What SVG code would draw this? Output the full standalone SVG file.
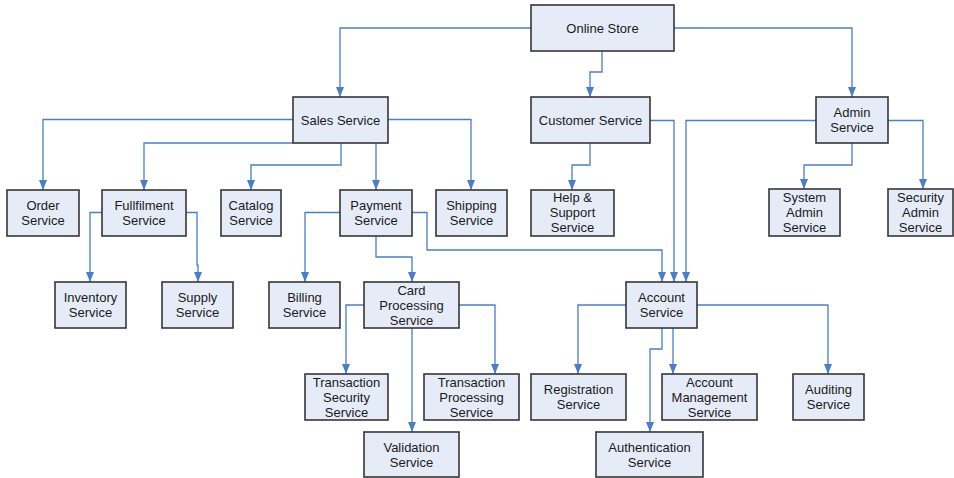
<svg xmlns="http://www.w3.org/2000/svg" width="954" height="478" viewBox="0 0 954 478">
<style>
.box{fill:#E6ECF7;stroke:#363636;stroke-width:1.6}
.lbl{font-family:"Liberation Sans",Arial,sans-serif;font-size:13px;fill:#1a1a1a;text-anchor:middle}
.c{fill:none;stroke:#4A7EC9;stroke-width:1.3;marker-end:url(#ah)}
</style>
<defs>
<marker id="ah" markerUnits="userSpaceOnUse" markerWidth="10" markerHeight="8" refX="10" refY="4" orient="auto">
<path d="M0,0 L10,4 L0,8 z" fill="#4A7EC9"/>
</marker>
</defs>
<rect width="954" height="478" fill="#fff"/>
<g id="connectors">
<path class="c" d="M531,28 H340 V97"/>
<path class="c" d="M602,51 V72 H590 V97"/>
<path class="c" d="M674,28 H852 V97"/>
<path class="c" d="M293,119.5 H43 V190"/>
<path class="c" d="M293,143 H144 V190"/>
<path class="c" d="M341,143 V165 H251 V190"/>
<path class="c" d="M376,143 V190"/>
<path class="c" d="M388,119.5 H471 V190"/>
<path class="c" d="M590,143 V165 H572 V190"/>
<path class="c" d="M650,120.5 H674 V282"/>
<path class="c" d="M816,120.5 H686 V282"/>
<path class="c" d="M412,212.5 H427 V250 H662 V282"/>
<path class="c" d="M852,143 V165 H804 V189"/>
<path class="c" d="M888,120.5 H923 V189"/>
<path class="c" d="M102,212.5 H90 V282"/>
<path class="c" d="M186,212.5 H197 V265 H198 V282"/>
<path class="c" d="M340,212.5 H305 V282"/>
<path class="c" d="M376,236 V257 H412 V282"/>
<path class="c" d="M364,305 H346 V374"/>
<path class="c" d="M459,305 H495 V374"/>
<path class="c" d="M412,328 V432"/>
<path class="c" d="M626,305 H578 V374"/>
<path class="c" d="M662,328 V349 H650 V432"/>
<path class="c" d="M673,328 V374"/>
<path class="c" d="M697,305 H828 V374"/>
</g>
<g id="online-store"><rect class="box" x="531" y="5" width="143" height="46"/><text class="lbl" x="602.5" y="32.5">Online Store</text></g>
<g id="sales-service"><rect class="box" x="293" y="97" width="95" height="46"/><text class="lbl" x="340.5" y="124.5">Sales Service</text></g>
<g id="customer-service"><rect class="box" x="531" y="97" width="119" height="46"/><text class="lbl" x="590.5" y="124.5">Customer Service</text></g>
<g id="admin-service"><rect class="box" x="816" y="97" width="72" height="46"/><text class="lbl" x="852" y="117">Admin</text><text class="lbl" x="852" y="132">Service</text></g>
<g id="order-service"><rect class="box" x="7" y="190" width="72" height="46"/><text class="lbl" x="43" y="210">Order</text><text class="lbl" x="43" y="225">Service</text></g>
<g id="fullfilment-service"><rect class="box" x="102" y="190" width="84" height="46"/><text class="lbl" x="144" y="210">Fullfilment</text><text class="lbl" x="144" y="225">Service</text></g>
<g id="catalog-service"><rect class="box" x="221" y="190" width="60" height="46"/><text class="lbl" x="251" y="210">Catalog</text><text class="lbl" x="251" y="225">Service</text></g>
<g id="payment-service"><rect class="box" x="340" y="190" width="72" height="46"/><text class="lbl" x="376" y="210">Payment</text><text class="lbl" x="376" y="225">Service</text></g>
<g id="shipping-service"><rect class="box" x="436" y="190" width="71" height="46"/><text class="lbl" x="471.5" y="210">Shipping</text><text class="lbl" x="471.5" y="225">Service</text></g>
<g id="help-support-service"><rect class="box" x="531" y="190" width="83" height="46"/><text class="lbl" x="572.5" y="202">Help &amp;</text><text class="lbl" x="572.5" y="217">Support</text><text class="lbl" x="572.5" y="232">Service</text></g>
<g id="system-admin-service"><rect class="box" x="769" y="189" width="71" height="47"/><text class="lbl" x="804.5" y="201.5">System</text><text class="lbl" x="804.5" y="216.5">Admin</text><text class="lbl" x="804.5" y="231.5">Service</text></g>
<g id="security-admin-service"><rect class="box" x="888" y="189" width="65" height="47"/><text class="lbl" x="920.5" y="201.5">Security</text><text class="lbl" x="920.5" y="216.5">Admin</text><text class="lbl" x="920.5" y="231.5">Service</text></g>
<g id="inventory-service"><rect class="box" x="55" y="282" width="71" height="46"/><text class="lbl" x="90.5" y="302">Inventory</text><text class="lbl" x="90.5" y="317">Service</text></g>
<g id="supply-service"><rect class="box" x="162" y="282" width="71" height="46"/><text class="lbl" x="197.5" y="302">Supply</text><text class="lbl" x="197.5" y="317">Service</text></g>
<g id="billing-service"><rect class="box" x="269" y="282" width="71" height="46"/><text class="lbl" x="304.5" y="302">Billing</text><text class="lbl" x="304.5" y="317">Service</text></g>
<g id="card-processing-service"><rect class="box" x="364" y="282" width="95" height="46"/><text class="lbl" x="411.5" y="294.5">Card</text><text class="lbl" x="411.5" y="309.5">Processing</text><text class="lbl" x="411.5" y="324.5">Service</text></g>
<g id="account-service"><rect class="box" x="626" y="282" width="71" height="46"/><text class="lbl" x="661.5" y="301.5">Account</text><text class="lbl" x="661.5" y="316.5">Service</text></g>
<g id="transaction-security-service"><rect class="box" x="305" y="374" width="83" height="46"/><text class="lbl" x="346.5" y="386.5">Transaction</text><text class="lbl" x="346.5" y="401.5">Security</text><text class="lbl" x="346.5" y="416.5">Service</text></g>
<g id="transaction-processing-service"><rect class="box" x="424" y="374" width="95" height="46"/><text class="lbl" x="471.5" y="386.5">Transaction</text><text class="lbl" x="471.5" y="401.5">Processing</text><text class="lbl" x="471.5" y="416.5">Service</text></g>
<g id="registration-service"><rect class="box" x="531" y="374" width="95" height="46"/><text class="lbl" x="578.5" y="394">Registration</text><text class="lbl" x="578.5" y="409">Service</text></g>
<g id="account-management-service"><rect class="box" x="662" y="374" width="95" height="46"/><text class="lbl" x="709.5" y="386.5">Account</text><text class="lbl" x="709.5" y="401.5">Management</text><text class="lbl" x="709.5" y="416.5">Service</text></g>
<g id="auditing-service"><rect class="box" x="793" y="374" width="71" height="46"/><text class="lbl" x="828.5" y="394">Auditing</text><text class="lbl" x="828.5" y="409">Service</text></g>
<g id="validation-service"><rect class="box" x="364" y="432" width="95" height="45"/><text class="lbl" x="411.5" y="451.5">Validation</text><text class="lbl" x="411.5" y="466.5">Service</text></g>
<g id="authentication-service"><rect class="box" x="596" y="432" width="107" height="45"/><text class="lbl" x="649.5" y="451.5">Authentication</text><text class="lbl" x="649.5" y="466.5">Service</text></g>
</svg>
